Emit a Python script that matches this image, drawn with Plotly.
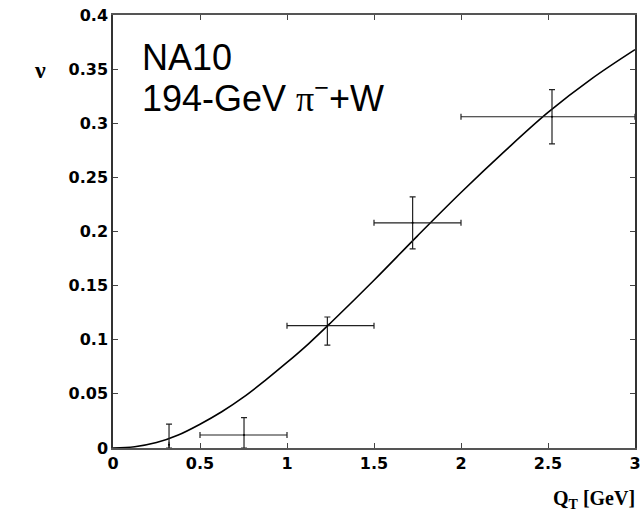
import plotly.graph_objects as go

# Measured nu versus Q_T (NA10, 194 GeV pi- + W)
qt = [0.322, 0.753, 1.232, 1.722, 2.523]
nu = [0.003, 0.012, 0.113, 0.208, 0.306]
nu_err_up = [0.019, 0.016, 0.008, 0.024, 0.025]
nu_err_down = [0.003, 0.012, 0.018, 0.024, 0.025]
bin_lo = [0.322, 0.5, 1.0, 1.5, 2.0]
bin_hi = [0.322, 1.0, 1.5, 2.0, 3.0]

# Model curve
curve_qt = [0.0, 0.125, 0.25, 0.375, 0.5, 0.625, 0.75, 0.875, 1.0, 1.125, 1.25,
            1.5, 1.75, 2.0, 2.25, 2.5, 2.75, 3.0]
curve_nu = [0.0, 0.0012, 0.005, 0.012, 0.022, 0.0335, 0.047, 0.0625, 0.079, 0.0965, 0.1155,
            0.155, 0.196, 0.236, 0.274, 0.310, 0.341, 0.368]

x_ticks = [0, 0.5, 1, 1.5, 2, 2.5, 3]
y_ticks = [0, 0.05, 0.1, 0.15, 0.2, 0.25, 0.3, 0.35, 0.4]

fig = go.Figure()

fig.add_trace(go.Scatter(
    x=curve_qt, y=curve_nu, mode="lines",
    line=dict(color="black", width=1.6, shape="spline", smoothing=1.0),
    showlegend=False, hoverinfo="skip",
))

fig.add_trace(go.Scatter(
    x=qt, y=nu, mode="markers",
    marker=dict(color="black", size=2),
    error_y=dict(type="data", symmetric=False, array=nu_err_up, arrayminus=nu_err_down,
                 color="#222", thickness=1.2, width=3),
    error_x=dict(type="data", symmetric=False,
                 array=[h - c for h, c in zip(bin_hi, qt)],
                 arrayminus=[c - l for c, l in zip(qt, bin_lo)],
                 color="#222", thickness=1.2, width=3),
    showlegend=False,
))

tick_font = dict(family="DejaVu Sans", size=16, color="black", weight="bold")

fig.update_xaxes(
    range=[0, 3], tickvals=x_ticks, ticktext=[f"{v:g}" for v in x_ticks],
    ticks="inside", ticklen=5, tickcolor="#444", mirror="ticks",
    showline=True, linecolor="#555", linewidth=1.5, automargin=False,
    showgrid=False, zeroline=False, tickfont=tick_font,
)
fig.update_yaxes(
    range=[0, 0.4], tickvals=y_ticks, ticktext=[f"{v:g}" for v in y_ticks],
    ticks="inside", ticklen=5, tickcolor="#444", mirror="ticks",
    showline=True, linecolor="#333", linewidth=1.5, automargin=False,
    showgrid=False, zeroline=False, tickfont=tick_font,
)

title_font = dict(family="Liberation Sans, Arial", size=36, color="black")
fig.add_annotation(text="NA10", xref="paper", yref="paper", x=0.052, y=0.902,
                   xanchor="left", yanchor="middle", showarrow=False, font=title_font)
fig.add_annotation(
    text="194-GeV <span style='font-family:Liberation Serif'>π</span><sup>−</sup>+W",
    xref="paper", yref="paper", x=0.052, y=0.812, xanchor="left", yanchor="middle",
    showarrow=False, font=title_font)

label_font = dict(family="Liberation Serif, Times New Roman", size=20, color="black", weight="bold")
fig.add_annotation(text="ν", xref="paper", yref="paper", x=-0.14, y=0.872,
                   xanchor="center", yanchor="middle", showarrow=False,
                   font=dict(family="Liberation Serif", size=24, color="black", weight="bold"))
fig.add_annotation(text="Q<sub>T</sub> [GeV]", xref="paper", yref="paper", x=1.004, y=-0.12,
                   xanchor="right", yanchor="middle", showarrow=False, font=label_font)

fig.update_layout(
    width=641, height=513,
    margin=dict(l=113, r=6, t=15, b=65, autoexpand=False),
    paper_bgcolor="white", plot_bgcolor="white",
)

fig.write_html("out.html")
